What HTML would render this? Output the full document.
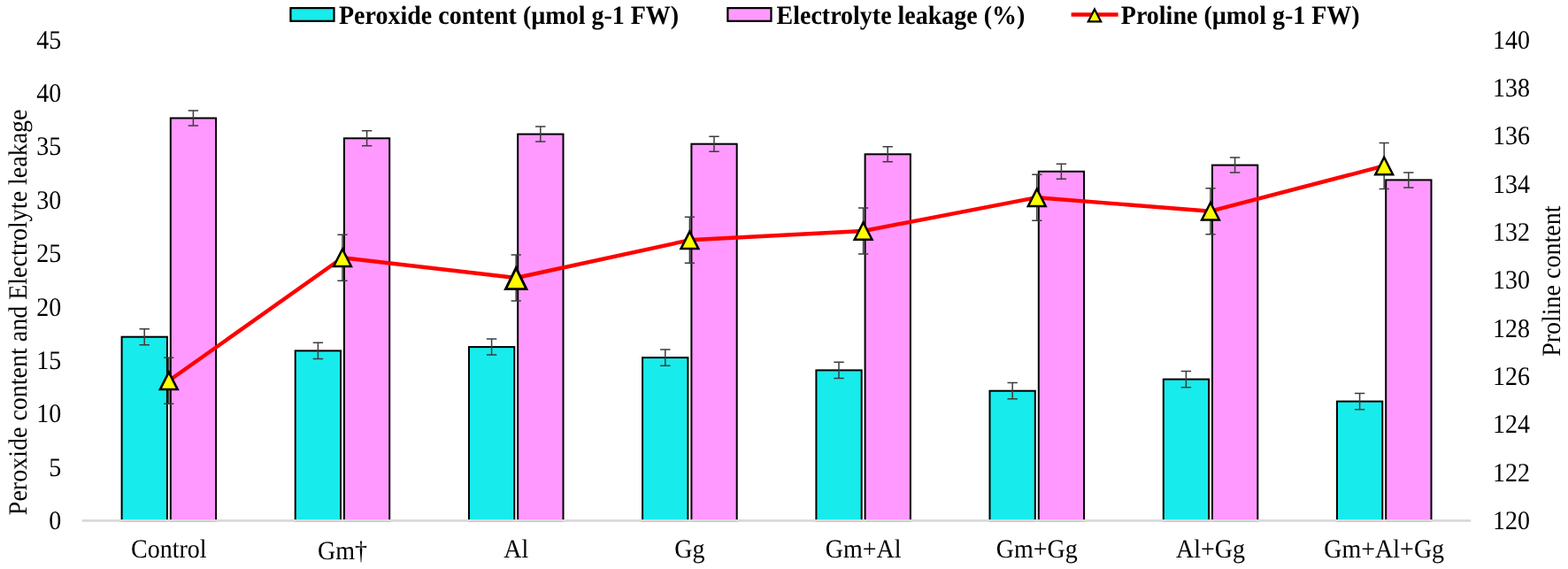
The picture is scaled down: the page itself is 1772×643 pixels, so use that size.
<!DOCTYPE html>
<html lang="en">
<head>
<meta charset="utf-8">
<title>Peroxide content, electrolyte leakage and proline</title>
<style>
html,body{margin:0;padding:0;background:#fff;}
body{width:1772px;height:643px;overflow:hidden;font-family:"Liberation Serif",serif;}
svg{display:block;}
</style>
</head>
<body>
<svg width="1772" height="643" viewBox="0 0 1772 643">
<rect width="1772" height="643" fill="#fff"/>
<g stroke="#000" stroke-width="2">
<rect x="137.6" y="380.7" width="51.3" height="207.7" fill="#18ebeb"/>
<rect x="192.8" y="133.5" width="51.3" height="454.9" fill="#ff99ff"/>
<rect x="333.7" y="396.4" width="51.3" height="192.0" fill="#18ebeb"/>
<rect x="388.9" y="156.3" width="51.3" height="432.1" fill="#ff99ff"/>
<rect x="530.0" y="392.1" width="51.3" height="196.3" fill="#18ebeb"/>
<rect x="585.2" y="151.6" width="51.3" height="436.8" fill="#ff99ff"/>
<rect x="726.1" y="404.1" width="51.3" height="184.3" fill="#18ebeb"/>
<rect x="781.4" y="162.7" width="51.3" height="425.7" fill="#ff99ff"/>
<rect x="922.4" y="418.4" width="51.3" height="170.0" fill="#18ebeb"/>
<rect x="977.6" y="174.3" width="51.3" height="414.1" fill="#ff99ff"/>
<rect x="1118.5" y="441.7" width="51.3" height="146.7" fill="#18ebeb"/>
<rect x="1173.8" y="193.8" width="51.3" height="394.6" fill="#ff99ff"/>
<rect x="1314.8" y="428.6" width="51.3" height="159.8" fill="#18ebeb"/>
<rect x="1370.0" y="186.6" width="51.3" height="401.8" fill="#ff99ff"/>
<rect x="1511.0" y="453.6" width="51.3" height="134.8" fill="#18ebeb"/>
<rect x="1566.2" y="203.4" width="51.3" height="385.0" fill="#ff99ff"/>
</g>
<line x1="92.7" y1="588.4" x2="1662.3" y2="588.4" stroke="#d9d9d9" stroke-width="2.6"/>
<path d="M163.2 371.7V389.8M157.5 371.7H168.9M157.5 389.8H168.9" fill="none" stroke="#3c3c3c" stroke-width="1.5"/>
<path d="M218.4 125.0V142.0M212.7 125.0H224.1M212.7 142.0H224.1" fill="none" stroke="#3c3c3c" stroke-width="1.5"/>
<path d="M359.4 387.3V405.4M353.7 387.3H365.1M353.7 405.4H365.1" fill="none" stroke="#3c3c3c" stroke-width="1.5"/>
<path d="M414.6 147.8V164.8M408.9 147.8H420.3M408.9 164.8H420.3" fill="none" stroke="#3c3c3c" stroke-width="1.5"/>
<path d="M555.6 383.0V401.1M549.9 383.0H561.3M549.9 401.1H561.3" fill="none" stroke="#3c3c3c" stroke-width="1.5"/>
<path d="M610.8 143.1V160.1M605.1 143.1H616.5M605.1 160.1H616.5" fill="none" stroke="#3c3c3c" stroke-width="1.5"/>
<path d="M751.8 395.1V413.2M746.1 395.1H757.5M746.1 413.2H757.5" fill="none" stroke="#3c3c3c" stroke-width="1.5"/>
<path d="M807.0 154.2V171.2M801.3 154.2H812.7M801.3 171.2H812.7" fill="none" stroke="#3c3c3c" stroke-width="1.5"/>
<path d="M948.0 409.3V427.4M942.3 409.3H953.7M942.3 427.4H953.7" fill="none" stroke="#3c3c3c" stroke-width="1.5"/>
<path d="M1003.2 165.8V182.8M997.5 165.8H1008.9M997.5 182.8H1008.9" fill="none" stroke="#3c3c3c" stroke-width="1.5"/>
<path d="M1144.2 432.6V450.7M1138.5 432.6H1149.9M1138.5 450.7H1149.9" fill="none" stroke="#3c3c3c" stroke-width="1.5"/>
<path d="M1199.4 185.3V202.3M1193.7 185.3H1205.1M1193.7 202.3H1205.1" fill="none" stroke="#3c3c3c" stroke-width="1.5"/>
<path d="M1340.4 419.6V437.7M1334.7 419.6H1346.1M1334.7 437.7H1346.1" fill="none" stroke="#3c3c3c" stroke-width="1.5"/>
<path d="M1395.6 178.1V195.1M1389.9 178.1H1401.3M1389.9 195.1H1401.3" fill="none" stroke="#3c3c3c" stroke-width="1.5"/>
<path d="M1536.6 444.6V462.7M1530.9 444.6H1542.3M1530.9 462.7H1542.3" fill="none" stroke="#3c3c3c" stroke-width="1.5"/>
<path d="M1591.8 194.9V211.9M1586.1 194.9H1597.5M1586.1 211.9H1597.5" fill="none" stroke="#3c3c3c" stroke-width="1.5"/>
<polyline points="190.8,430.3 387.0,291.2 583.2,314.0 779.4,271.3 975.6,261.0 1171.8,223.2 1368.0,238.7 1564.2,187.4" fill="none" stroke="#fe0000" stroke-width="4.4" stroke-linejoin="round" stroke-linecap="round"/>
<path d="M190.8 404.3V456.3M185.2 404.3H196.4M185.2 456.3H196.4" fill="none" stroke="#3c3c3c" stroke-width="1.5"/>
<path d="M190.8 420.6L200.7 440.1H180.9Z" fill="#ffff00" stroke="#000" stroke-width="2.5" stroke-linejoin="miter"/>
<path d="M387.0 265.2V317.2M381.4 265.2H392.6M381.4 317.2H392.6" fill="none" stroke="#3c3c3c" stroke-width="1.5"/>
<path d="M387.0 281.5L396.9 301.0H377.1Z" fill="#ffff00" stroke="#000" stroke-width="2.5" stroke-linejoin="miter"/>
<path d="M583.2 288.0V340.0M577.6 288.0H588.8M577.6 340.0H588.8" fill="none" stroke="#3c3c3c" stroke-width="1.5"/>
<path d="M583.2 302.8L594.9 326.6H571.5Z" fill="#ffff00" stroke="#000" stroke-width="2.9" stroke-linejoin="miter"/>
<path d="M779.4 245.3V297.3M773.8 245.3H785.0M773.8 297.3H785.0" fill="none" stroke="#3c3c3c" stroke-width="1.5"/>
<path d="M779.4 261.6L789.3 281.1H769.5Z" fill="#ffff00" stroke="#000" stroke-width="2.5" stroke-linejoin="miter"/>
<path d="M975.6 235.0V287.0M970.0 235.0H981.2M970.0 287.0H981.2" fill="none" stroke="#3c3c3c" stroke-width="1.5"/>
<path d="M975.6 251.3L985.5 270.8H965.7Z" fill="#ffff00" stroke="#000" stroke-width="2.5" stroke-linejoin="miter"/>
<path d="M1171.8 197.2V249.2M1166.2 197.2H1177.4M1166.2 249.2H1177.4" fill="none" stroke="#3c3c3c" stroke-width="1.5"/>
<path d="M1171.8 213.5L1181.7 233.0H1161.9Z" fill="#ffff00" stroke="#000" stroke-width="2.5" stroke-linejoin="miter"/>
<path d="M1368.0 212.7V264.7M1362.4 212.7H1373.6M1362.4 264.7H1373.6" fill="none" stroke="#3c3c3c" stroke-width="1.5"/>
<path d="M1368.0 229.0L1377.9 248.5H1358.1Z" fill="#ffff00" stroke="#000" stroke-width="2.5" stroke-linejoin="miter"/>
<path d="M1564.2 161.4V213.4M1558.6 161.4H1569.8M1558.6 213.4H1569.8" fill="none" stroke="#3c3c3c" stroke-width="1.5"/>
<path d="M1564.2 177.7L1574.1 197.2H1554.3Z" fill="#ffff00" stroke="#000" stroke-width="2.5" stroke-linejoin="miter"/>
<g font-family="'Liberation Serif', serif" font-size="28px" fill="#000" text-rendering="geometricPrecision">
<text transform="translate(69.3 598.0) scale(1 1.07)" text-anchor="end">0</text>
<text transform="translate(69.3 537.6) scale(1 1.07)" text-anchor="end">5</text>
<text transform="translate(69.3 477.2) scale(1 1.07)" text-anchor="end">10</text>
<text transform="translate(69.3 416.9) scale(1 1.07)" text-anchor="end">15</text>
<text transform="translate(69.3 356.5) scale(1 1.07)" text-anchor="end">20</text>
<text transform="translate(69.3 296.1) scale(1 1.07)" text-anchor="end">25</text>
<text transform="translate(69.3 235.7) scale(1 1.07)" text-anchor="end">30</text>
<text transform="translate(69.3 175.4) scale(1 1.07)" text-anchor="end">35</text>
<text transform="translate(69.3 115.0) scale(1 1.07)" text-anchor="end">40</text>
<text transform="translate(69.3 54.6) scale(1 1.07)" text-anchor="end">45</text>
<text transform="translate(1687.0 598.0) scale(1 1.07)">120</text>
<text transform="translate(1687.0 543.7) scale(1 1.07)">122</text>
<text transform="translate(1687.0 489.3) scale(1 1.07)">124</text>
<text transform="translate(1687.0 435.0) scale(1 1.07)">126</text>
<text transform="translate(1687.0 380.6) scale(1 1.07)">128</text>
<text transform="translate(1687.0 326.3) scale(1 1.07)">130</text>
<text transform="translate(1687.0 272.0) scale(1 1.07)">132</text>
<text transform="translate(1687.0 217.6) scale(1 1.07)">134</text>
<text transform="translate(1687.0 163.3) scale(1 1.07)">136</text>
<text transform="translate(1687.0 108.9) scale(1 1.07)">138</text>
<text transform="translate(1687.0 54.6) scale(1 1.07)">140</text>
<text transform="translate(190.8 630.3) scale(1 1.06)" text-anchor="middle">Control</text>
<text transform="translate(387.0 631.5) scale(1 1.06)" text-anchor="middle">Gm†</text>
<text transform="translate(583.2 630.3) scale(1 1.06)" text-anchor="middle">Al</text>
<text transform="translate(779.4 630.3) scale(1 1.06)" text-anchor="middle">Gg</text>
<text transform="translate(975.6 630.3) scale(1 1.06)" text-anchor="middle">Gm+Al</text>
<text transform="translate(1171.8 630.3) scale(1 1.06)" text-anchor="middle">Gm+Gg</text>
<text transform="translate(1368.0 630.3) scale(1 1.06)" text-anchor="middle">Al+Gg</text>
<text transform="translate(1564.2 630.3) scale(1 1.06)" text-anchor="middle">Gm+Al+Gg</text>
<text transform="translate(29.8 352.8) rotate(-90) scale(1 1.06)" text-anchor="middle">Peroxide content and Electrolyte leakage</text>
<text transform="translate(1763.3 317.7) rotate(-90) scale(1 1.06)" text-anchor="middle">Proline content</text>
</g>
<g font-family="'Liberation Serif', serif" font-size="28px" font-weight="bold" fill="#000" text-rendering="geometricPrecision">
<rect x="328.4" y="9.1" width="49.1" height="14.7" fill="#18ebeb" stroke="#000" stroke-width="2.2"/>
<text transform="translate(383.0 26.9) scale(1 1.06)">Peroxide content (µmol g-1 FW)</text>
<rect x="822.4" y="9.1" width="49.1" height="14.7" fill="#ff99ff" stroke="#000" stroke-width="2.2"/>
<text transform="translate(877.5 26.9) scale(1 1.06)">Electrolyte leakage (%)</text>
<line x1="1210.6" y1="16.5" x2="1263.6" y2="16.5" stroke="#fe0000" stroke-width="4.3"/>
<path d="M1237 10.4L1244.2 24.4H1229.8Z" fill="#ffff00" stroke="#000" stroke-width="2.2"/>
<text transform="translate(1266.8 26.9) scale(1 1.06)">Proline (µmol g-1 FW)</text>
</g>
</svg>
</body>
</html>
